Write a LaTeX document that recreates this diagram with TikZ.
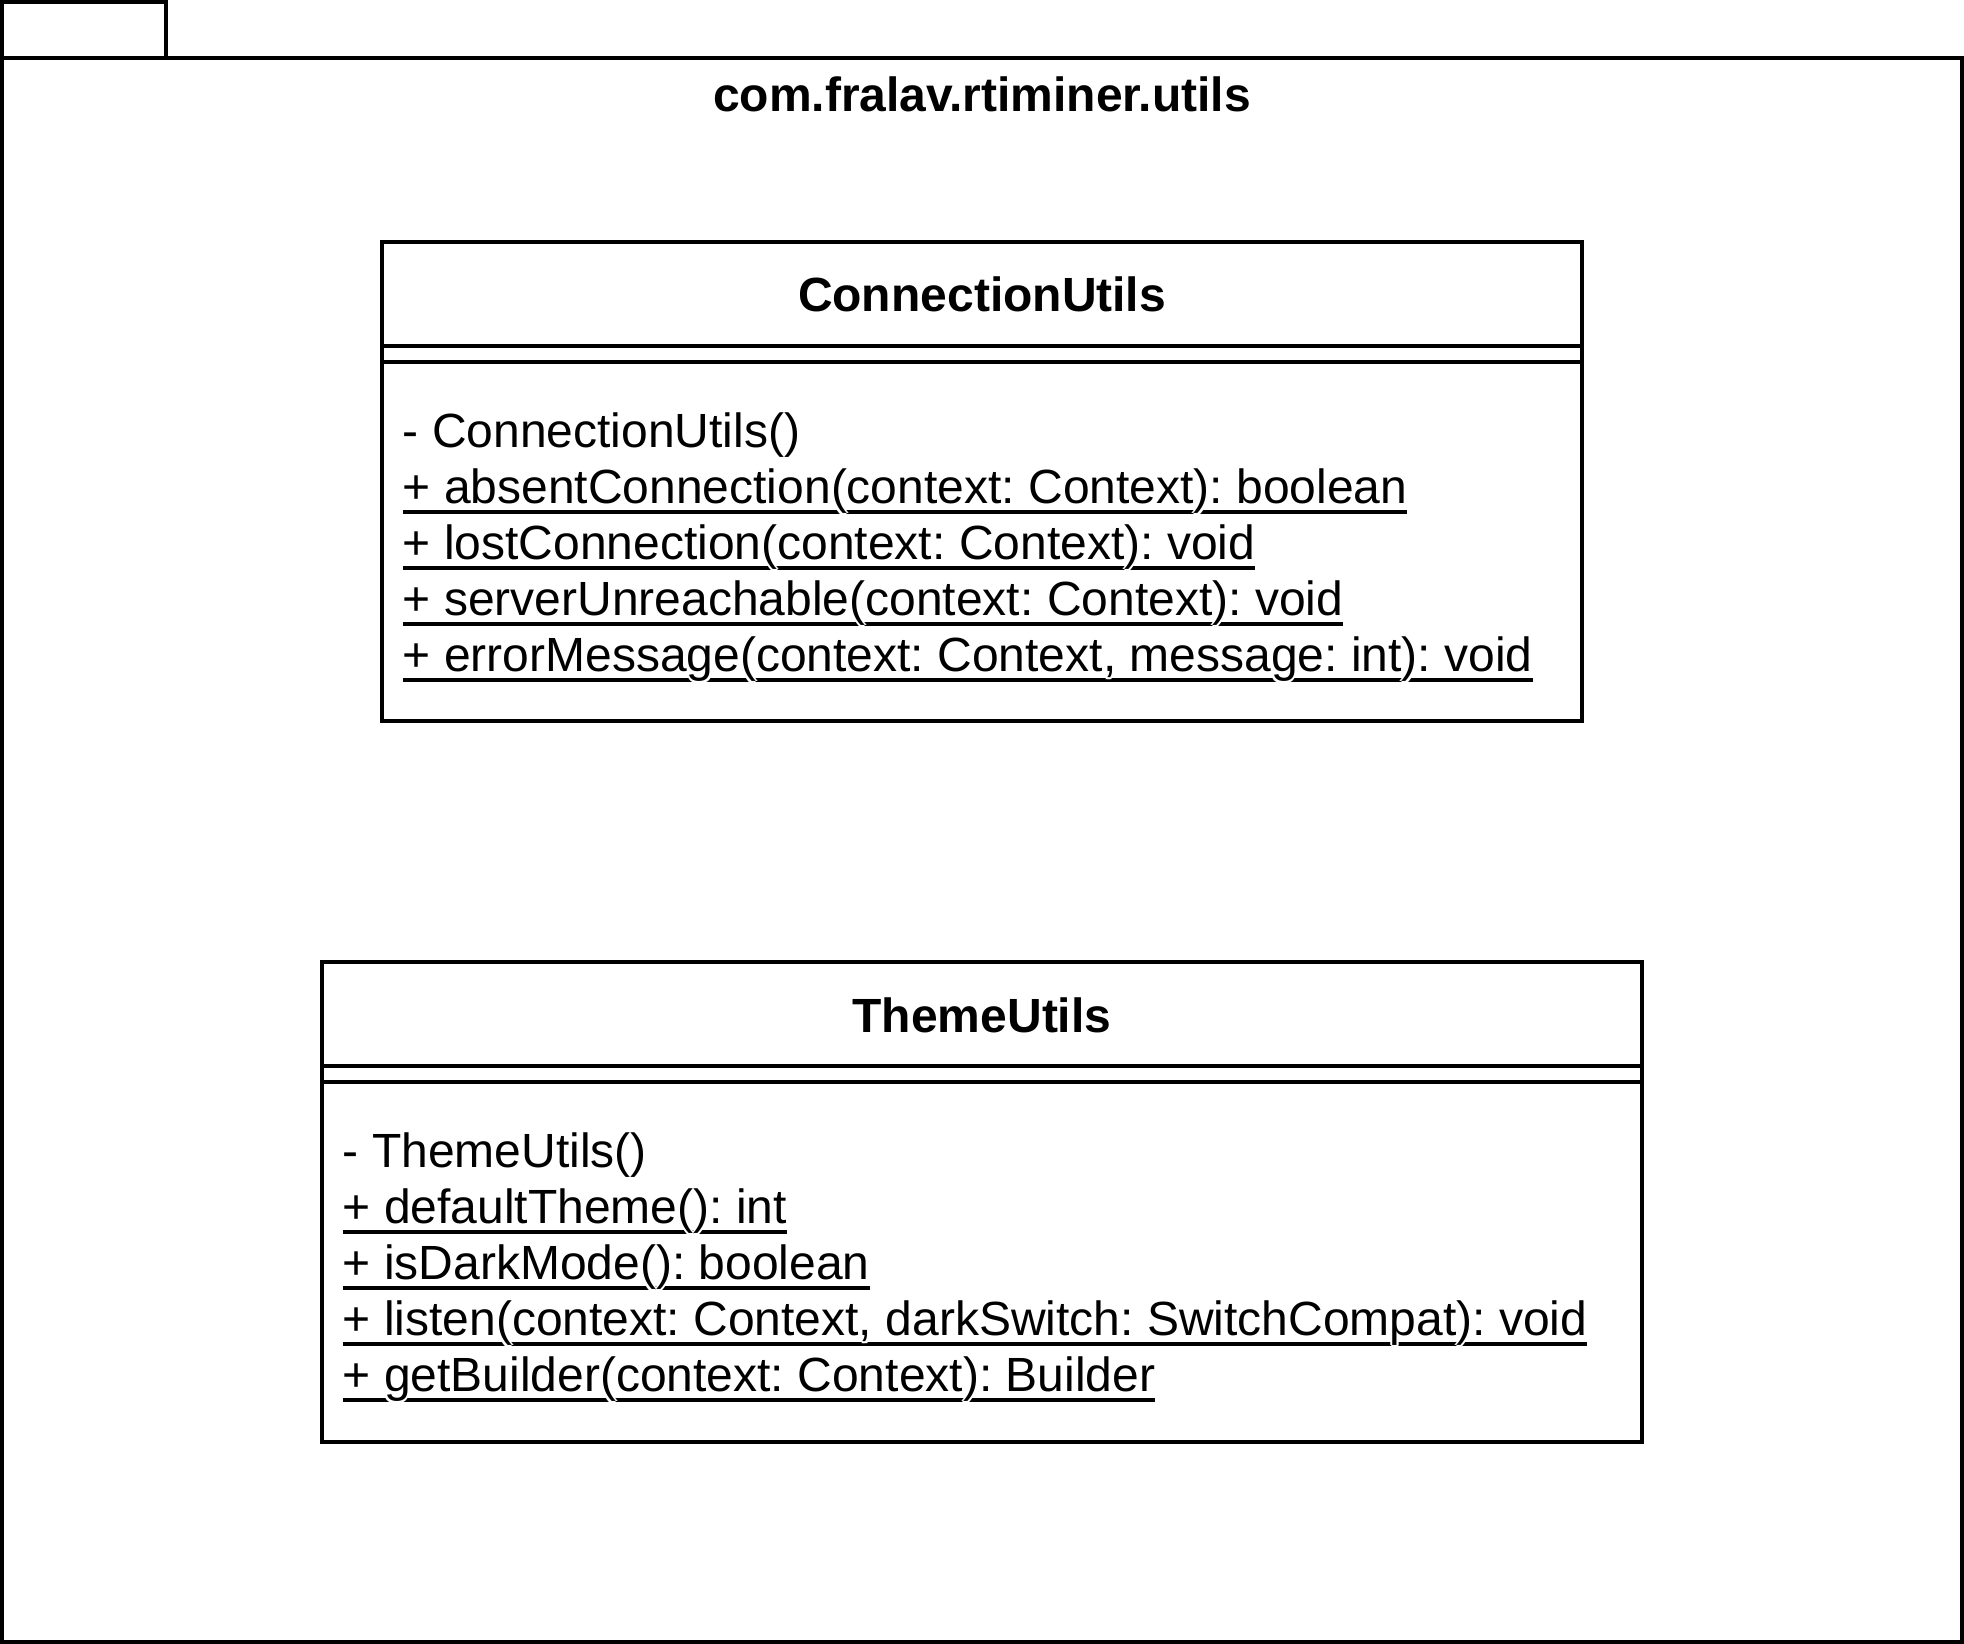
\documentclass[tikz,border=0pt]{standalone}
\usepackage{fontspec}
\setmainfont{Liberation Sans}
\frenchspacing
\newlength\ulw
\newcommand\uml[1]{%
  \settowidth\ulw{#1}%
  \rlap{\rule[-2.45pt]{\ulw}{1pt}}%
  \rlap{\kern0.5pt\textcolor{white}{#1}}%
  \rlap{\kern-0.5pt\textcolor{white}{#1}}%
  \rlap{\raisebox{-0.5pt}{\textcolor{white}{#1}}}%
  \rlap{\kern0.35pt\raisebox{-0.35pt}{\textcolor{white}{#1}}}%
  \rlap{\kern-0.35pt\raisebox{-0.35pt}{\textcolor{white}{#1}}}%
  #1}
\tikzset{
  txt/.style={inner sep=0pt, font=\fontsize{12pt}{14pt}\selectfont},
  member/.style={txt, anchor=base west},
  cname/.style={txt, anchor=base, font=\fontsize{12pt}{14pt}\selectfont\bfseries},
  frame/.style={draw=black, line width=1pt, line join=miter},
}
\begin{document}
\begin{tikzpicture}[x=0.25pt, y=-0.25pt]
\useasboundingbox (0,0) rectangle (1964,1644);
\fill[white] (0,0) rectangle (1964,1644);
% package
\draw[frame] (2,2) rectangle (166,58);
\draw[frame] (2,58) rectangle (1962,1642);
\node[cname] (pkg) at (982,112) {com.fralav.rtiminer.utils};
% ConnectionUtils
\draw[frame] (382,242) rectangle (1582,721.5);
\draw[frame] (382,346) -- (1582,346);
\draw[frame] (382,362) -- (1582,362);
\node[cname] (connname) at (982,312) {ConnectionUtils};
\node[member] (c1) at (402,448) {- ConnectionUtils()};
\node[member] (c2) at (402,504) {\uml{+ absentConnection(context: Context): boolean}};
\node[member] (c3) at (402,560) {\uml{+ lostConnection(context: Context): void}};
\node[member] (c4) at (402,616) {\uml{+ serverUnreachable(context: Context): void}};
\node[member] (c5) at (402,672) {\uml{+ errorMessage(context: Context, message: int): void}};
% ThemeUtils
\draw[frame] (322,962) rectangle (1642,1442);
\draw[frame] (322,1066) -- (1642,1066);
\draw[frame] (322,1082) -- (1642,1082);
\node[cname] (themename) at (982,1033) {ThemeUtils};
\node[member] (t1) at (342,1168) {- ThemeUtils()};
\node[member] (t2) at (342,1224) {\uml{+ defaultTheme(): int}};
\node[member] (t3) at (342,1280) {\uml{+ isDarkMode(): boolean}};
\node[member] (t4) at (342,1336) {\uml{+ listen(context: Context, darkSwitch: SwitchCompat): void}};
\node[member] (t5) at (342,1392) {\uml{+ getBuilder(context: Context): Builder}};
\end{tikzpicture}
\end{document}
